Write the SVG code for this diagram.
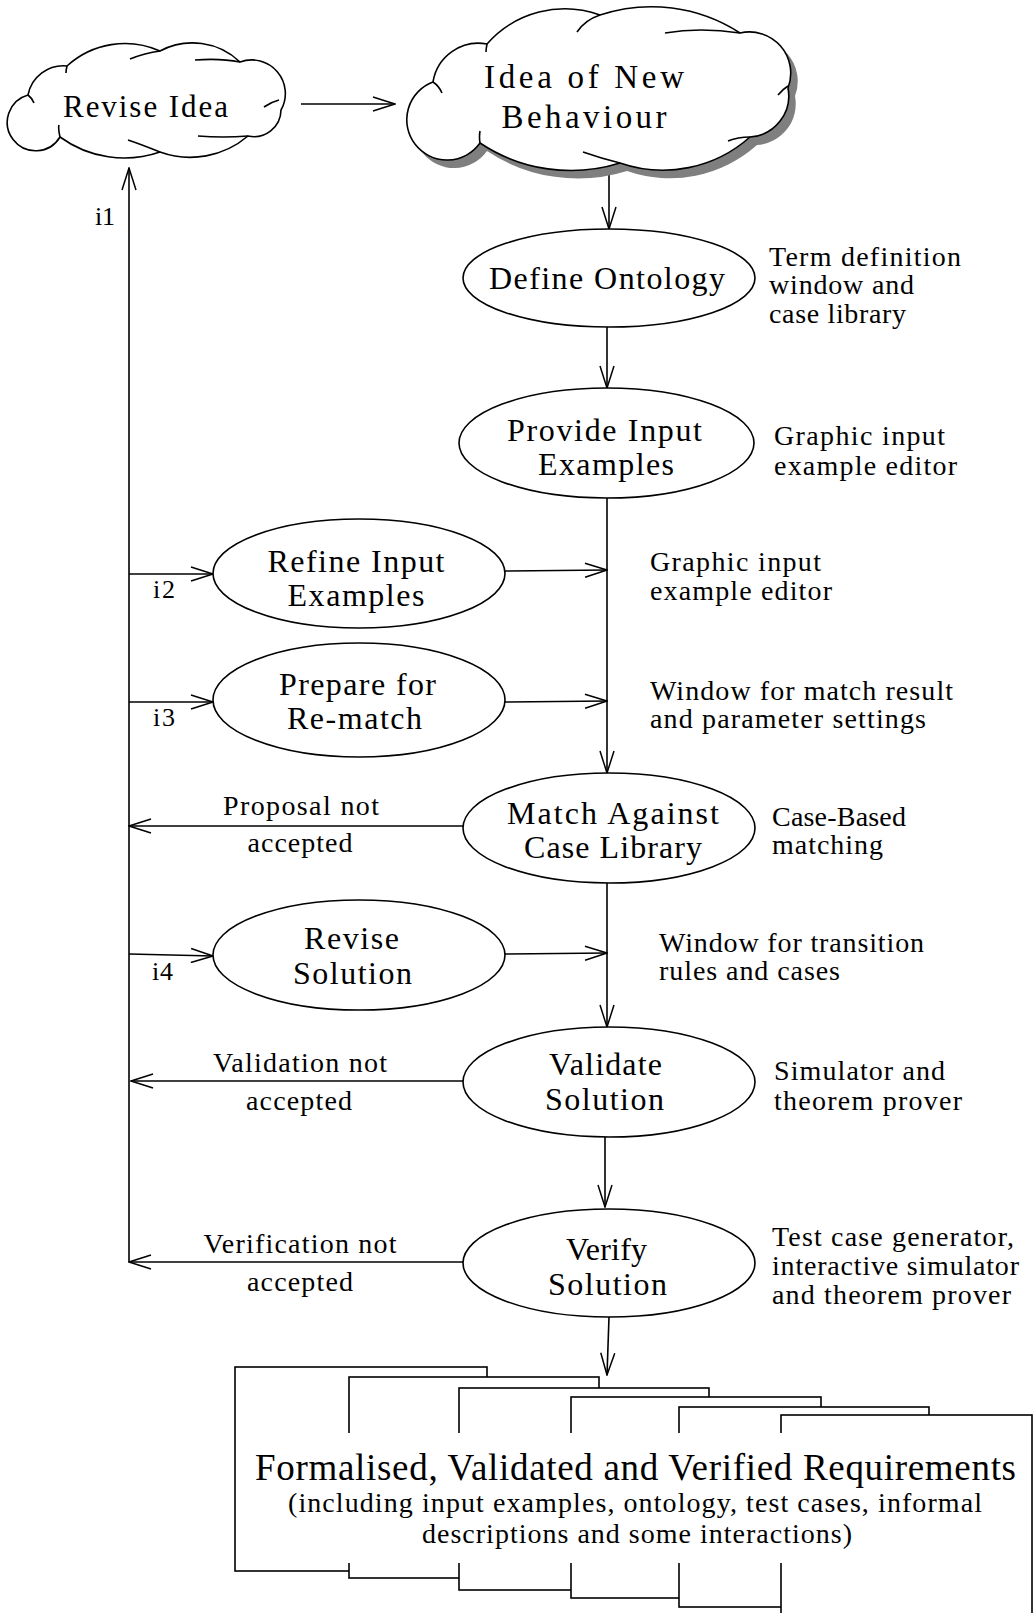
<svg xmlns="http://www.w3.org/2000/svg" width="1034" height="1613" viewBox="0 0 1034 1613">
<defs>
<style>
.ln{stroke:#000;stroke-width:1.6;fill:none}
.node{fill:#fff;stroke:#000;stroke-width:1.6}
.tick{fill:none;stroke:#000;stroke-width:1.6}
text{font-family:"Liberation Serif","Times New Roman",serif;fill:#000}
.lbl{font-size:32px;text-anchor:middle}
.ann{font-size:28px}
.el{font-size:28px;text-anchor:middle}
.idx{font-size:26px}
</style>
<marker id="ah" viewBox="0 0 24 16" refX="23" refY="8" markerWidth="24" markerHeight="16" markerUnits="userSpaceOnUse" orient="auto">
<path d="M1,1 L23,8 L1,15" fill="none" stroke="#000" stroke-width="1.5"/>
</marker>
</defs>
<rect width="1034" height="1613" fill="#fff"/>

<g id="connectors">
<path class="ln" d="M301,104 L395,104" marker-end="url(#ah)"/>
<path class="ln" d="M609,168 L609,229" marker-end="url(#ah)"/>
<path class="ln" d="M607,327 L607,388" marker-end="url(#ah)"/>
<path class="ln" d="M607,498 L607,773" marker-end="url(#ah)"/>
<path class="ln" d="M607,883 L607,1027" marker-end="url(#ah)"/>
<path class="ln" d="M605,1137 L605,1207" marker-end="url(#ah)"/>
<path class="ln" d="M609,1317 L607,1375" marker-end="url(#ah)"/>
<path class="ln" d="M129,1262 L129,168" marker-end="url(#ah)"/>
<path class="ln" d="M129,574 L213,574" marker-end="url(#ah)"/>
<path class="ln" d="M129,702 L213,702" marker-end="url(#ah)"/>
<path class="ln" d="M129,954 L213,956" marker-end="url(#ah)"/>
<path class="ln" d="M505,571 L607,570" marker-end="url(#ah)"/>
<path class="ln" d="M505,702 L607,701" marker-end="url(#ah)"/>
<path class="ln" d="M505,954 L607,953" marker-end="url(#ah)"/>
<path class="ln" d="M463,826 L129,826" marker-end="url(#ah)"/>
<path class="ln" d="M463,1081 L131,1081" marker-end="url(#ah)"/>
<path class="ln" d="M463,1262 L129,1262" marker-end="url(#ah)"/>
<text class="idx" x="95" y="225" textLength="20" lengthAdjust="spacing">i1</text>
<text class="idx" x="153" y="598" textLength="22" lengthAdjust="spacing">i2</text>
<text class="idx" x="153" y="726" textLength="22" lengthAdjust="spacing">i3</text>
<text class="idx" x="152" y="980" textLength="21" lengthAdjust="spacing">i4</text>
<text class="el" x="301" y="815" textLength="156" lengthAdjust="spacing">Proposal not</text>
<text class="el" x="300" y="852" textLength="105" lengthAdjust="spacing">accepted</text>
<text class="el" x="300" y="1072" textLength="174" lengthAdjust="spacing">Validation not</text>
<text class="el" x="299" y="1110" textLength="106" lengthAdjust="spacing">accepted</text>
<text class="el" x="300" y="1253" textLength="193" lengthAdjust="spacing">Verification not</text>
<text class="el" x="300" y="1291" textLength="106" lengthAdjust="spacing">accepted</text>
</g>

<g id="revise-idea">
<path class="node" d="M28,95 A36,36 0 0 1 67,66 A86,86 0 0 1 160,51 A69,69 0 0 1 240,62 A33.6,33.6 0 0 1 281,110 A27,27 0 0 1 248,136 A89,89 0 0 1 160,152 A109,109 0 0 1 60,137 A28.4,28.4 0 1 1 28,95 Z"/>
<path class="tick" d="M28,95 q4,3 6,8 M67,66 q-1,4 -1,7 M160,51 q-15,2 -30,8 M240,62 q-20,-4 -45,-2 M279,100 q-8,2 -15,7 M248,136 q-25,2 -50,0 M160,152 q-20,-8 -32,-12 M60,137 q-2,-8 -1,-12"/>
<text x="145.5" y="117" font-size="31" text-anchor="middle" textLength="165" lengthAdjust="spacing">Revise Idea</text>
</g>

<g id="idea-new-behaviour">
<path transform="translate(7,8)" fill="#7f7f7f" d="M433,82 A46,46 0 0 1 487,44 A103.6,103.6 0 0 1 600,15 A163,163 0 0 1 740,33 A41.3,41.3 0 0 1 788,88 A41.3,41.3 0 0 1 750,137 A131,131 0 0 1 620,163 A164,164 0 0 1 480,143 A40.3,40.3 0 1 1 433,82 Z"/>
<path class="node" d="M433,82 A46,46 0 0 1 487,44 A103.6,103.6 0 0 1 600,15 A163,163 0 0 1 740,33 A41.3,41.3 0 0 1 788,88 A41.3,41.3 0 0 1 750,137 A131,131 0 0 1 620,163 A164,164 0 0 1 480,143 A40.3,40.3 0 1 1 433,82 Z"/>
<path class="tick" d="M433,82 q6,4 9,11 M487,44 q-1,5 -1,8 M600,15 q-15,5 -23,17 M740,33 q-40,-6 -75,0 M788,86 q-5,3 -10,9 M750,137 q-12,0 -22,4 M620,163 q-20,-5 -37,-11 M480,143 q-1,-6 0,-12"/>
<text x="584" y="88" font-size="33" text-anchor="middle" textLength="200" lengthAdjust="spacing">Idea of New</text>
<text x="584" y="128" font-size="33" text-anchor="middle" textLength="165" lengthAdjust="spacing">Behaviour</text>
</g>

<g id="define-ontology">
<ellipse class="node" cx="609" cy="278" rx="146" ry="49"/>
<text class="lbl" x="607" y="289" textLength="236" lengthAdjust="spacing">Define Ontology</text>
<text class="ann" x="769" y="266" textLength="192" lengthAdjust="spacing">Term definition</text>
<text class="ann" x="769" y="294" textLength="145" lengthAdjust="spacing">window and</text>
<text class="ann" x="769" y="323" textLength="137" lengthAdjust="spacing">case library</text>
</g>

<g id="provide-input">
<ellipse class="node" cx="606.5" cy="443" rx="147.5" ry="55"/>
<text class="lbl" x="604.5" y="441" textLength="195" lengthAdjust="spacing">Provide Input</text>
<text class="lbl" x="606" y="475" textLength="136" lengthAdjust="spacing">Examples</text>
<text class="ann" x="774" y="445" textLength="171" lengthAdjust="spacing">Graphic input</text>
<text class="ann" x="774" y="475" textLength="183" lengthAdjust="spacing">example editor</text>
</g>

<g id="refine-input">
<ellipse class="node" cx="359" cy="573.5" rx="146" ry="54.5"/>
<text class="lbl" x="356" y="572" textLength="177" lengthAdjust="spacing">Refine Input</text>
<text class="lbl" x="356" y="606" textLength="137" lengthAdjust="spacing">Examples</text>
<text class="ann" x="650" y="571" textLength="171" lengthAdjust="spacing">Graphic input</text>
<text class="ann" x="650" y="600" textLength="182" lengthAdjust="spacing">example editor</text>
</g>

<g id="prepare-rematch">
<ellipse class="node" cx="359" cy="700" rx="146" ry="57"/>
<text class="lbl" x="357.5" y="695" textLength="157" lengthAdjust="spacing">Prepare for</text>
<text class="lbl" x="354.5" y="729" textLength="135" lengthAdjust="spacing">Re-match</text>
<text class="ann" x="650" y="700" textLength="303" lengthAdjust="spacing">Window for match result</text>
<text class="ann" x="650" y="728" textLength="276" lengthAdjust="spacing">and parameter settings</text>
</g>

<g id="match-case-library">
<ellipse class="node" cx="609" cy="828" rx="146" ry="55"/>
<text class="lbl" x="613" y="824" textLength="212" lengthAdjust="spacing">Match Against</text>
<text class="lbl" x="613" y="858" textLength="178" lengthAdjust="spacing">Case Library</text>
<text class="ann" x="772" y="826" textLength="134" lengthAdjust="spacing">Case-Based</text>
<text class="ann" x="772" y="854" textLength="111" lengthAdjust="spacing">matching</text>
</g>

<g id="revise-solution">
<ellipse class="node" cx="359" cy="955" rx="146" ry="55"/>
<text class="lbl" x="351.5" y="949" textLength="95" lengthAdjust="spacing">Revise</text>
<text class="lbl" x="352.5" y="984" textLength="119" lengthAdjust="spacing">Solution</text>
<text class="ann" x="659" y="952" textLength="265" lengthAdjust="spacing">Window for transition</text>
<text class="ann" x="659" y="980" textLength="181" lengthAdjust="spacing">rules and cases</text>
</g>

<g id="validate-solution">
<ellipse class="node" cx="609" cy="1082" rx="146" ry="55"/>
<text class="lbl" x="605.5" y="1075" textLength="113" lengthAdjust="spacing">Validate</text>
<text class="lbl" x="604.5" y="1110" textLength="119" lengthAdjust="spacing">Solution</text>
<text class="ann" x="774" y="1080" textLength="171" lengthAdjust="spacing">Simulator and</text>
<text class="ann" x="774" y="1110" textLength="188" lengthAdjust="spacing">theorem prover</text>
</g>

<g id="verify-solution">
<ellipse class="node" cx="609" cy="1263" rx="146" ry="54"/>
<text class="lbl" x="606.5" y="1260" textLength="81" lengthAdjust="spacing">Verify</text>
<text class="lbl" x="607.5" y="1295" textLength="119" lengthAdjust="spacing">Solution</text>
<text class="ann" x="772" y="1246" textLength="242" lengthAdjust="spacing">Test case generator,</text>
<text class="ann" x="772" y="1275" textLength="247" lengthAdjust="spacing">interactive simulator</text>
<text class="ann" x="772" y="1304" textLength="239" lengthAdjust="spacing">and theorem prover</text>
</g>

<g id="requirements">
<rect class="node" x="235" y="1367" width="252" height="204"/>
<rect class="node" x="349" y="1377" width="250" height="201"/>
<rect class="node" x="459" y="1388" width="250" height="202"/>
<rect class="node" x="571" y="1397" width="250" height="201"/>
<rect class="node" x="679" y="1407" width="250" height="200"/>
<rect class="node" x="781" y="1415" width="251" height="210"/>
<rect x="237" y="1433" width="793" height="130" fill="#fff"/>
<text x="635.5" y="1480" font-size="37" text-anchor="middle" textLength="761" lengthAdjust="spacing">Formalised, Validated and Verified Requirements</text>
<text x="635" y="1512" font-size="28" text-anchor="middle" textLength="694" lengthAdjust="spacing">(including input examples, ontology, test cases, informal</text>
<text x="637" y="1543" font-size="28" text-anchor="middle" textLength="430" lengthAdjust="spacing">descriptions and some interactions)</text>
</g>
</svg>
